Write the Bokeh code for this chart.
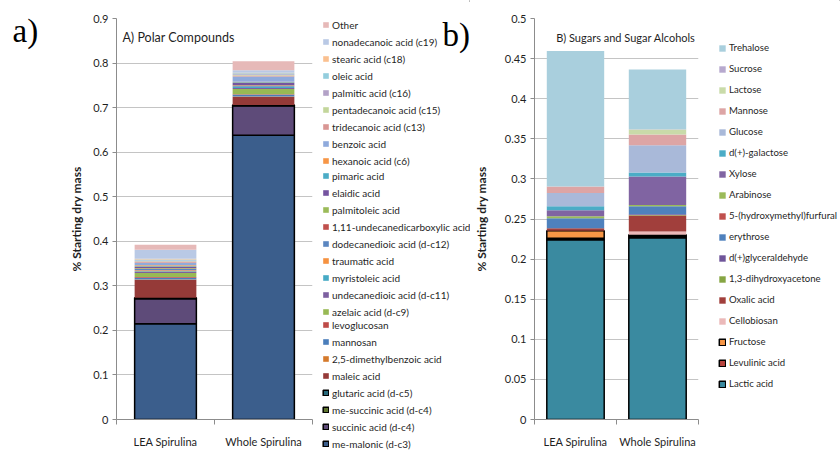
from bokeh.plotting import figure
from bokeh.models import (ColumnDataSource, Legend, LegendItem, Label, FixedTicker,
                          NumeralTickFormatter, Range1d)
from bokeh.layouts import row
from bokeh.embed import file_html
from bokeh.resources import INLINE

categories = ["LEA Spirulina", "Whole Spirulina"]

# ---------------- a) Polar compounds (bottom of stack first) ----------------
polar_series = [
    "me-malonic (d-c3)", "succinic acid (d-c4)", "me-succinic acid (d-c4)", "glutaric acid (d-c5)",
    "maleic acid", "2,5-dimethylbenzoic acid", "mannosan", "levoglucosan", "azelaic acid (d-c9)",
    "undecanedioic acid (d-c11)", "myristoleic acid", "traumatic acid", "dodecanedioic acid (d-c12)",
    "1,11-undecanedicarboxylic acid", "palmitoleic acid", "elaidic acid", "pimaric acid",
    "hexanoic acid (c6)", "benzoic acid", "tridecanoic acid (c13)", "pentadecanoic acid (c15)",
    "palmitic acid (c16)", "oleic acid", "stearic acid (c18)", "nonadecanoic acid (c19)", "Other",
]
polar_lea = [0.215, 0.056, 0.001, 0.001, 0.040, 0.001, 0.004, 0.002, 0.009, 0.002, 0.002, 0.002,
             0.003, 0.001, 0.001, 0.002, 0.002, 0.002, 0.006, 0.002, 0.001, 0.002, 0.002, 0.002,
             0.020, 0.011]
polar_whole = [0.638, 0.066, 0.001, 0.001, 0.018, 0.001, 0.004, 0.001, 0.012, 0.002, 0.002, 0.001,
               0.002, 0.001, 0.001, 0.004, 0.002, 0.001, 0.012, 0.002, 0.001, 0.002, 0.002, 0.001,
               0.006, 0.020]
polar_colors = ["#3B5E8C", "#5E4B79", "#5F7530", "#276A7C", "#953A38", "#D57A2C", "#4A7EBB",
                "#BE4B48", "#98B954", "#7D60A0", "#46AAC5", "#F69240", "#5B86C0", "#C0504D",
                "#9BBB59", "#7554A0", "#4BACC6", "#F79646", "#8FAADC", "#D99694", "#C3D69B",
                "#B3A2C7", "#93CDDD", "#FAC090", "#B9C9E5", "#E6B9B8"]
polar_outlined = [True, True, True, True] + [False] * 22
polar_ticks = [0, 0.1, 0.2, 0.3, 0.4, 0.5, 0.6, 0.7, 0.8, 0.9]

# ---------------- b) Sugars and sugar alcohols (bottom of stack first) ----------------
sugar_series = [
    "Lactic acid", "Levulinic acid", "Fructose", "Cellobiosan", "Oxalic acid",
    "1,3-dihydroxyacetone", "d(+)glyceraldehyde", "erythrose", "5-(hydroxymethyl)furfural",
    "Arabinose", "Xylose", "d(+)-galactose", "Glucose", "Mannose", "Lactose", "Sucrose", "Trehalose",
]
sugar_lea = [0.224, 0.002, 0.0095, 0.0, 0.003, 0.0, 0.0, 0.0125, 0.0, 0.0025, 0.0075, 0.005,
             0.0165, 0.008, 0.0, 0.0, 0.169]
sugar_whole = [0.2265, 0.002, 0.002, 0.004, 0.020, 0.0005, 0.001, 0.010, 0.0, 0.0015, 0.0355,
               0.005, 0.034, 0.0135, 0.006, 0.0005, 0.0745]
sugar_colors = ["#3A8AA0", "#B8443F", "#F79646", "#EBB9B9", "#A13F3C", "#86A543", "#6F559A",
                "#4F81BD", "#C0504D", "#9BBB59", "#8064A2", "#4BACC6", "#A9B9D9", "#DDA5A5",
                "#C9DBA9", "#B7A9CE", "#A9CFDD"]
sugar_outlined = [True, True, True] + [False] * 14
sugar_ticks = [0, 0.05, 0.1, 0.15, 0.2, 0.25, 0.3, 0.35, 0.4, 0.45, 0.5]

FONT = "Lato"
TXT = "#1F1F1F"
H = 450
x_pos = [i + 0.5 for i in range(len(categories))]
x_bounds = list(range(len(categories) + 1))


def make_fig(width, ymax, ticks, ml, mr, mt, mb, title_standoff):
    p = figure(width=width, height=H, x_range=Range1d(0, len(categories)),
               y_range=Range1d(0, ymax), output_backend="svg", toolbar_location=None,
               min_border_left=ml, min_border_right=mr, min_border_top=mt, min_border_bottom=mb,
               frame_align=False)
    p.outline_line_color = None
    p.xgrid.grid_line_color = None
    p.ygrid.ticker = FixedTicker(ticks=ticks[:-1])
    p.ygrid.grid_line_color = "#C4C4C4"
    p.ygrid.grid_line_width = 1

    ya = p.yaxis[0]
    ya.ticker = FixedTicker(ticks=ticks)
    ya.formatter = NumeralTickFormatter(format="0.[00]")
    ya.axis_line_color = "#8C8C8C"
    ya.major_tick_line_color = "#8C8C8C"
    ya.major_tick_out = 4
    ya.major_tick_in = 0
    ya.minor_tick_line_color = None
    ya.major_label_standoff = 4
    ya.major_label_text_font = FONT
    ya.major_label_text_font_size = "11px"
    ya.major_label_text_color = TXT
    ya.axis_label = "% Starting dry mass"
    ya.axis_label_text_font = FONT
    ya.axis_label_text_font_style = "bold"
    ya.axis_label_text_font_size = "12px"
    ya.axis_label_text_color = TXT
    ya.axis_label_standoff = title_standoff

    xa = p.xaxis[0]
    xa.ticker = FixedTicker(ticks=x_pos, minor_ticks=x_bounds)
    xa.major_label_overrides = {pos: cat for pos, cat in zip(x_pos, categories)}
    xa.axis_line_color = "#8C8C8C"
    xa.major_tick_line_color = None
    xa.major_tick_out = 0
    xa.major_tick_in = 0
    xa.minor_tick_line_color = "#8C8C8C"
    xa.minor_tick_out = 5
    xa.minor_tick_in = 0
    xa.major_label_standoff = 10
    xa.major_label_text_font = FONT
    xa.major_label_text_font_size = "11px"
    xa.major_label_text_color = TXT
    return p


def holder(width):
    # plain canvas whose frame covers the whole figure; x range kept left of the bars
    f = figure(width=width, height=H, x_range=Range1d(-width, 0), y_range=Range1d(H, 0),
               output_backend="svg", toolbar_location=None, min_border=0,
               x_axis_location=None, y_axis_location=None, frame_align=False)
    f.xgrid.grid_line_color = None
    f.ygrid.grid_line_color = None
    f.outline_line_color = None
    return f


def make_source(series, lea, whole):
    keys = ["s%d" % i for i in range(len(series))]
    data = {"x": x_pos}
    for k, a, b in zip(keys, lea, whole):
        data[k] = [a, b]
    return keys, ColumnDataSource(data)


def add_stack(p, keys, src, colors, outlined, bar_width):
    return p.vbar_stack(
        keys, x="x", width=bar_width, source=src,
        fill_color=list(colors),
        line_color=["black" if o else None for o in outlined],
        line_width=[1.5 if o else 0 for o in outlined],
    )


def make_legend(items, x, y, row_h, glyph, size):
    return Legend(items=items, location=(x, y), orientation="vertical",
                  glyph_width=glyph, glyph_height=glyph, label_height=row_h, spacing=0,
                  label_standoff=3, padding=0, margin=0, border_line_color=None,
                  background_fill_alpha=0, label_text_font=FONT, label_text_font_size=size,
                  label_text_color=TXT)


# ---------------- "a)" holder ----------------
fa = holder(60)
fa.add_layout(Label(x=-60 + 12, y=30, text="a)", text_font="Liberation Serif",
                    text_font_size="33px", text_baseline="middle", text_color="black"))

# ---------------- left chart ----------------
keys_a, src_a = make_source(polar_series, polar_lea, polar_whole)
pa = make_fig(262, 0.9, polar_ticks, 56, 10, 18, 30, 6)
add_stack(pa, keys_a, src_a, polar_colors, polar_outlined, 0.63)
pa.add_layout(Label(x=0.06, y=0.857, text="A) Polar Compounds", text_font=FONT,
                    text_font_size="12.5px", text_baseline="middle", text_color=TXT))

# ---------------- left legend (three blocks to fit the column) + "b)" ----------------
la = holder(148)
ra = add_stack(la, keys_a, src_a, polar_colors, polar_outlined, 0.63)
items_a = [LegendItem(label=n, renderers=[r]) for n, r in zip(polar_series, ra)][::-1]
la.add_layout(make_legend(items_a[:9], 0, 281, 17, 7, "10px"))
la.add_layout(make_legend(items_a[9:18], 0, 130, 17, 7, "10px"))
la.add_layout(make_legend(items_a[18:], 0, -2, 17, 7, "10px"))
la.add_layout(Label(x=-148 + 120, y=34, text="b)", text_font="Liberation Serif",
                    text_font_size="33px", text_baseline="middle", text_color="black"))

# ---------------- right chart ----------------
keys_b, src_b = make_source(sugar_series, sugar_lea, sugar_whole)
pb = make_fig(238, 0.5, sugar_ticks, 54, 10, 18, 28, 13)
add_stack(pb, keys_b, src_b, sugar_colors, sugar_outlined, 0.70)
pb.add_layout(Label(x=0.264, y=0.4765, text="B) Sugars and Sugar Alcohols", text_font=FONT,
                    text_font_size="11px", text_baseline="middle", text_color=TXT))

# ---------------- right legend ----------------
lb = holder(132)
rb = add_stack(lb, keys_b, src_b, sugar_colors, sugar_outlined, 0.70)
items_b = [LegendItem(label=n, renderers=[r]) for n, r in zip(sugar_series, rb)][::-1]
lb.add_layout(make_legend(items_b, 10, 56, 21, 8, "9.6px"))

layout = row(fa, pa, la, pb, lb, spacing=0)
open("out.html", "w").write(file_html(layout, INLINE))
